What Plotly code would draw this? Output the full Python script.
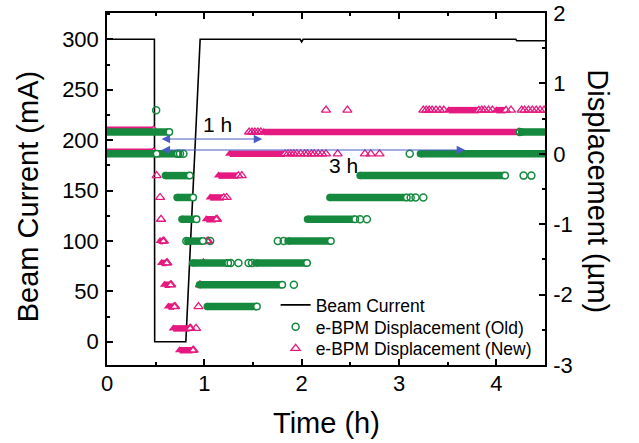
import plotly.graph_objects as go

# ---------------- data ----------------
# Beam current (time in h, current in mA)
beam_t = [0.0, 0.487, 0.49, 0.81, 0.957, 1.985, 2.0, 2.015, 4.2, 4.21, 4.5]
beam_i = [300, 300, 0, 0, 300, 300, 297.5, 300, 300, 298.5, 298.5]

# e-BPM displacement (Old): dense runs (start h, end h, level um)
old_run_start = [-0.05, -0.05, 0.53, 3.22, 4.26, 0.60, 2.60, 0.72, 2.29, 0.77, 2.06, 0.83, 1.86, 0.88, 1.53, 0.95, 1.03]
old_run_end   = [0.64, 0.51, 0.72, 4.55, 4.55, 0.85, 4.09, 0.885, 3.08, 0.92, 2.55, 0.985, 2.30, 1.245, 2.055, 1.80, 1.54]
old_run_level = [0.31, 0.0, 0.0, 0.0, 0.31, -0.31, -0.31, -0.62, -0.62, -0.93, -0.93, -1.24, -1.24, -1.55, -1.55, -1.86, -2.17]
# isolated samples (Old)
old_pt_t = [0.505, 4.24, 0.73, 0.75, 0.785, 3.11, 4.28, 4.36, 3.12, 3.17, 3.25, 2.60, 2.67,
            0.815, 1.06, 1.755, 1.815, 1.27, 1.35, 1.455, 1.49, 1.92]
old_pt_v = [0.62, 0.31, 0.0, 0.0, 0.0, 0.0, -0.31, -0.31, -0.62, -0.62, -0.62, -0.93, -0.93,
            -1.24, -1.24, -1.24, -1.24, -1.55, -1.55, -1.55, -1.55, -1.86]

# e-BPM displacement (New): dense runs
new_run_start = [-0.05, -0.05, 1.61, 1.26, 3.51, 4.00, 1.145, 1.06, 1.02, 0.545, 1.00, 0.56, 0.59, 0.63, 0.68, 0.745]
new_run_end   = [0.48, 0.48, 4.23, 1.83, 3.82, 4.10, 1.35, 1.20, 1.12, 0.575, 1.03, 0.61, 0.65, 0.69, 0.85, 0.88]
new_run_level = [0.34, 0.03, 0.31, 0.0, 0.62, 0.62, -0.31, -0.62, -0.93, -1.24, -1.24, -1.55, -1.86, -2.17, -2.48, -2.79]
# isolated samples (New)
new_pt_t = [2.25, 2.47, 3.25, 3.28, 3.31, 3.34, 3.38, 3.42, 3.46, 3.85, 3.88, 3.92, 3.96, 4.15,
            4.26, 4.29, 4.33, 4.37, 4.41, 4.45, 4.49,
            1.46, 1.49, 1.52, 1.55, 1.58,
            1.86, 1.89, 1.92, 1.95, 1.99, 2.03, 2.06, 2.10, 2.13, 2.17, 2.21, 2.25, 2.37, 2.65, 2.71, 2.80,
            0.51, 1.385, 0.545, 1.23, 0.555, 1.13, 0.585, 1.04, 0.62, 0.99, 0.66, 0.955,
            0.70, 0.94, 0.86, 0.915, 0.89]
new_pt_v = [0.62] * 21 + [0.31] * 5 + [0.0] * 16 + \
           [-0.31, -0.31, -0.62, -0.62, -0.93, -0.93, -1.24, -1.24, -1.55, -1.55, -1.86, -1.86,
            -2.17, -2.17, -2.48, -2.48, -2.79]

x_ticks = [0, 1, 2, 3, 4]
x_ticktext = ["0", "1", "2", "3", "4"]
y_ticks = [0, 50, 100, 150, 200, 250, 300]
y_ticktext = ["0", "50", "100", "150", "200", "250", "300"]
y2_ticks = [-3, -2, -1, 0, 1, 2]
y2_ticktext = ["-3", "-2", "-1", "0", "1", "2"]

# ---------------- style ----------------
GREEN = "#158a3e"
PINK = "#e5197f"
BLUE = "#4a5cc6"
FONT = "Liberation Sans, Arial, sans-serif"


def run_xy(starts, ends, levels):
    xs, ys = [], []
    for s, e, l in zip(starts, ends, levels):
        xs += [s, e, None]
        ys += [l, l, None]
    return xs, ys


fig = go.Figure()

fig.add_trace(go.Scatter(x=beam_t, y=beam_i, mode="lines", name="Beam Current",
                         line=dict(color="black", width=1.6), legend="legend", yaxis="y"))

# New (pink) first so that green lies on top
nx, ny = run_xy(new_run_start, new_run_end, new_run_level)
fig.add_trace(go.Scatter(x=nx, y=ny, mode="lines", line=dict(color=PINK, width=6.5),
                         showlegend=False, yaxis="y2", hoverinfo="skip"))
fig.add_trace(go.Scatter(x=new_run_start, y=new_run_level, mode="markers", showlegend=False, yaxis="y2",
                         marker=dict(symbol="triangle-up", size=8, color=PINK, line=dict(width=0))))
fig.add_trace(go.Scatter(x=new_run_end, y=new_run_level, mode="markers", showlegend=False, yaxis="y2",
                         marker=dict(symbol="triangle-up", size=7.5, color="white",
                                     line=dict(width=1.3, color=PINK))))
fig.add_trace(go.Scatter(x=new_pt_t, y=new_pt_v, mode="markers", name="e-BPM Displacement (New)",
                         legend="legend3", yaxis="y2",
                         marker=dict(symbol="triangle-up-open", size=8, color=PINK, line=dict(width=1.3))))

ox, oy = run_xy(old_run_start, old_run_end, old_run_level)
fig.add_trace(go.Scatter(x=ox, y=oy, mode="lines", line=dict(color=GREEN, width=7.5),
                         showlegend=False, yaxis="y2", hoverinfo="skip"))
fig.add_trace(go.Scatter(x=old_run_start, y=old_run_level, mode="markers", showlegend=False, yaxis="y2",
                         marker=dict(symbol="circle", size=7.5, color=GREEN, line=dict(width=0))))
fig.add_trace(go.Scatter(x=old_run_end, y=old_run_level, mode="markers", showlegend=False, yaxis="y2",
                         marker=dict(symbol="circle", size=6.5, color="white",
                                     line=dict(width=1.5, color=GREEN))))
fig.add_trace(go.Scatter(x=old_pt_t, y=old_pt_v, mode="markers", name="e-BPM Displacement (Old)",
                         legend="legend2", yaxis="y2",
                         marker=dict(symbol="circle-open", size=7, color=GREEN, line=dict(width=1.5))))

axis_common = dict(showline=True, linecolor="black", linewidth=1.5, ticks="inside",
                   ticklen=6, tickwidth=1.5, tickcolor="black", showgrid=False, zeroline=False,
                   automargin=False,
                   tickfont=dict(size=22, color="black", family=FONT))

legend_common = dict(xanchor="left", yanchor="middle", bgcolor="rgba(0,0,0,0)",
                     font=dict(size=17.5, family=FONT, color="black"), borderwidth=0)

fig.update_layout(
    width=639, height=443,
    margin=dict(l=107, r=94, t=13, b=78, autoexpand=False),
    paper_bgcolor="white", plot_bgcolor="white",
    font=dict(family=FONT, color="black"),
    xaxis=dict(range=[0, 4.5], tickmode="array", tickvals=x_ticks, ticktext=x_ticktext,
               mirror="ticks", ticklabelstandoff=-2,
               minor=dict(dtick=0.5, tick0=0, ticks="inside", ticklen=3.5, tickwidth=1.5, tickcolor="black"),
               **axis_common),
    yaxis=dict(range=[-23.1, 326.1], tickmode="array", tickvals=y_ticks, ticktext=y_ticktext,
               ticklabelstandoff=2,
               minor=dict(dtick=25, tick0=0, ticks="inside", ticklen=3.5, tickwidth=1.5, tickcolor="black"),
               **axis_common),
    yaxis2=dict(range=[-3, 2], overlaying="y", side="right", tickmode="array",
                tickvals=y2_ticks, ticktext=y2_ticktext, ticklabelstandoff=2,
                minor=dict(dtick=0.5, tick0=0, ticks="inside", ticklen=3.5, tickwidth=1.5, tickcolor="black"),
                **axis_common),
    legend=dict(x=0.385, y=0.1705, **legend_common),
    legend2=dict(x=0.385, y=0.108, **legend_common),
    legend3=dict(x=0.385, y=0.047, **legend_common),
    showlegend=True,
)

annotations = [
    dict(text="Beam Current (mA)", xref="paper", yref="paper", x=-0.180, y=0.477, textangle=-90,
         xanchor="center", yanchor="middle",
         showarrow=False, font=dict(size=29, family=FONT, color="black")),
    dict(text="Displacement (\u00b5m)", xref="paper", yref="paper", x=1.119, y=0.493, textangle=90,
         xanchor="center", yanchor="middle",
         showarrow=False, font=dict(size=29, family=FONT, color="black")),
    dict(text="Time (h)", xref="paper", yref="paper", x=0.501, y=-0.165,
         xanchor="center", yanchor="middle",
         showarrow=False, font=dict(size=29, family=FONT, color="black")),
    dict(text="1 h", xref="x", yref="y2", x=1.14, y=0.41, showarrow=False,
         xanchor="center", yanchor="middle", font=dict(size=21, family=FONT, color="black")),
    dict(text="3 h", xref="x", yref="y2", x=2.43, y=-0.17, showarrow=False,
         xanchor="center", yanchor="middle", font=dict(size=21, family=FONT, color="black")),
    dict(text="", x=1.595, y=0.21, ax=0.545, ay=0.21, xref="x", yref="y2", axref="x", ayref="y2",
         showarrow=True, arrowhead=2, startarrowhead=2, arrowside="end+start", arrowsize=1.7,
         startarrowsize=1.7, arrowwidth=1, arrowcolor=BLUE),
    dict(text="", x=3.68, y=0.054, ax=0.545, ay=0.054, xref="x", yref="y2", axref="x", ayref="y2",
         showarrow=True, arrowhead=2, startarrowhead=2, arrowside="end+start", arrowsize=1.7,
         startarrowsize=1.7, arrowwidth=1, arrowcolor=BLUE),
]
fig.update_layout(annotations=annotations)

fig.write_html("out.html")
